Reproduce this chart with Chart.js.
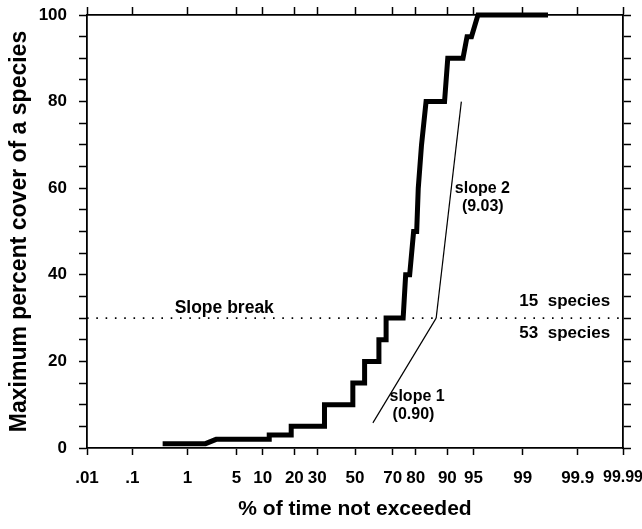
<!DOCTYPE html>
<html>
<head>
<meta charset="utf-8">
<script src="https://cdn.jsdelivr.net/npm/chart.js@4.4.1/dist/chart.umd.min.js"></script>
<style>
  html, body { margin: 0; padding: 0; background: #fff; }
  #wrap { width: 642px; height: 529px; }
</style>
</head>
<body>
<div id="wrap"><canvas id="cover-chart"></canvas></div>
<script>
// probability axis ticks (% of time not exceeded)
const xTickPercents = [0.01, 0.1, 1, 5, 10, 20, 30, 50, 70, 80, 90, 95, 99, 99.9, 99.99];
const xTickLabels = [".01", ".1", "1", "5", "10", "20", "30", "50", "70", "80", "90", "95", "99", "99.9", "99.99"];
const yTickStep = 5;
const yLabelEvery = 20;

// stepped exceedance curve
const curvePercent = [0.38, 1.9, 2.7, 11.7, 11.7, 18.8, 18.8, 33.6, 33.6, 48.8, 48.8, 55.3, 55.3, 63, 63, 66.7, 66.7,
  74.8, 75.9, 77.6, 79.2, 80.4, 81.0, 82.2, 83.8, 89.3, 90.1, 93.3, 94.0, 94.7, 95.6, 99.63];
const curveCover = [1, 1, 2, 2, 3, 3, 5, 5, 10, 10, 15, 15, 20, 20, 25, 25, 30,
  30, 40, 40, 50, 50, 60, 70, 80, 80, 90, 90, 95, 95, 100, 100];

// fitted slopes
const slope1Percent = [59.8, 87.0];
const slope1Cover = [5.8, 30];
const slope2Percent = [87.0, 93.0];
const slope2Cover = [30, 80];

// slope break
const breakPercent = [0.01, 99.99];
const breakCover = [30, 30];

const FONT = "'Liberation Sans', Arial, Helvetica, sans-serif";

// inverse normal cdf (Acklam), used for the probability axis
function probit(p) {
  const a = [-3.969683028665376e1, 2.209460984245205e2, -2.759285104469687e2, 1.38357751867269e2, -3.066479806614716e1, 2.506628277459239];
  const b = [-5.447609879822406e1, 1.615858368580409e2, -1.556989798598866e2, 6.680131188771972e1, -1.328068155833381e1];
  const c = [-7.784894002430293e-3, -3.223964580411365e-1, -2.400758277161838, -2.549732539343734, 4.374664141464968, 2.938163982698783];
  const d = [7.784695709041462e-3, 3.224671290700398e-1, 2.445134137142996, 3.754408661907416];
  const pl = 0.02425;
  let q, r;
  if (p < pl) {
    q = Math.sqrt(-2 * Math.log(p));
    return (((((c[0] * q + c[1]) * q + c[2]) * q + c[3]) * q + c[4]) * q + c[5]) / ((((d[0] * q + d[1]) * q + d[2]) * q + d[3]) * q + 1);
  }
  if (p <= 1 - pl) {
    q = p - 0.5;
    r = q * q;
    return ((((((a[0] * r + a[1]) * r + a[2]) * r + a[3]) * r + a[4]) * r + a[5]) * q) / (((((b[0] * r + b[1]) * r + b[2]) * r + b[3]) * r + b[4]) * r + 1);
  }
  q = Math.sqrt(-2 * Math.log(1 - p));
  return -(((((c[0] * q + c[1]) * q + c[2]) * q + c[3]) * q + c[4]) * q + c[5]) / ((((d[0] * q + d[1]) * q + d[2]) * q + d[3]) * q + 1);
}

const toPoints = (xs, ys) => xs.map((p, i) => ({ x: probit(p / 100), y: ys[i] }));

const notes = [
  { text: "Slope break", x: 3.48, y: 32.3, align: "center", size: 17.5 },
  { text: "15  species", x: 99.98, y: 33.9, align: "right", size: 17 },
  { text: "53  species", x: 99.98, y: 26.6, align: "right", size: 17 },
  { text: "slope 2", x: 91.7, y: 59.8, align: "left", size: 16 },
  { text: "(9.03)", x: 93.1, y: 55.7, align: "left", size: 16 },
  { text: "slope 1", x: 68.4, y: 11.8, align: "left", size: 16 },
  { text: "(0.90)", x: 69.9, y: 7.6, align: "left", size: 16 },
];

const notesPlugin = {
  id: "notes",
  afterDatasetsDraw(chart) {
    const ctx = chart.ctx;
    const xs = chart.scales.x;
    const ys = chart.scales.y;
    ctx.save();
    ctx.fillStyle = "#000";
    ctx.textBaseline = "middle";
    for (let n of notes) {
      ctx.font = "bold " + n.size + "px " + FONT;
      ctx.textAlign = n.align;
      ctx.fillText(n.text, xs.getPixelForValue(probit(n.x / 100)), ys.getPixelForValue(n.y));
    }
    ctx.restore();
  },
};

function setTicks(scale) {
  scale.ticks = xTickPercents.map((p) => ({ value: probit(p / 100) }));
}

const zMin = probit(xTickPercents[0] / 100);
const zMax = probit(xTickPercents[xTickPercents.length - 1] / 100);

const axisGrid = (len) => ({
  display: true,
  drawOnChartArea: false,
  drawTicks: true,
  tickLength: len,
  tickColor: "#000",
  tickWidth: 1.5,
});
const axisBorder = { display: true, color: "#000", width: 1.8 };

new Chart(document.getElementById("cover-chart").getContext("2d"), {
  type: "scatter",
  plugins: [notesPlugin],
  data: {
    datasets: [
      {
        label: "curve",
        data: toPoints(curvePercent, curveCover),
        showLine: true,
        borderColor: "#000",
        borderWidth: 5,
        pointRadius: 0,
        clip: false,
      },
      {
        label: "slope 1",
        data: toPoints(slope1Percent, slope1Cover),
        showLine: true,
        borderColor: "#000",
        borderWidth: 1.2,
        pointRadius: 0,
      },
      {
        label: "slope 2",
        data: toPoints(slope2Percent, slope2Cover),
        showLine: true,
        borderColor: "#000",
        borderWidth: 1.2,
        pointRadius: 0,
      },
      {
        label: "break",
        data: toPoints(breakPercent, breakCover),
        showLine: true,
        borderColor: "#000",
        borderWidth: 1.6,
        borderDash: [1.6, 7.7],
        pointRadius: 0,
      },
    ],
  },
  options: {
    responsive: true,
    maintainAspectRatio: false,
    animation: false,
    layout: { padding: 0 },
    plugins: {
      legend: { display: false },
      tooltip: { enabled: false },
    },
    scales: {
      x: {
        type: "linear",
        position: "bottom",
        min: zMin,
        max: zMax,
        afterBuildTicks: setTicks,
        afterFit: (s) => { s.height = 81; s.paddingLeft = 0; s.paddingRight = 0; },
        grid: axisGrid(7),
        border: axisBorder,
        ticks: {
          autoSkip: false,
          maxRotation: 0,
          padding: 13,
          color: "#000",
          // last label sits at the canvas edge, set a touch smaller
          font: (ctx) => ({ size: ctx.index === xTickLabels.length - 1 ? 16 : 17, weight: "bold", family: FONT }),
          callback: (v, i) => xTickLabels[i],
        },
        title: {
          display: true,
          text: "% of time not exceeded",
          color: "#000",
          padding: { top: 0, bottom: 7 },
          font: { size: 21, weight: "bold", family: FONT },
        },
      },
      x2: {
        type: "linear",
        position: "top",
        min: zMin,
        max: zMax,
        afterBuildTicks: setTicks,
        afterFit: (s) => { s.height = 15; s.paddingLeft = 0; s.paddingRight = 0; },
        grid: axisGrid(8),
        border: axisBorder,
        ticks: { display: false },
      },
      y: {
        position: "left",
        min: 0,
        max: 100,
        afterFit: (s) => { s.width = 87; s.paddingTop = 0; s.paddingBottom = 0; },
        grid: axisGrid(8),
        border: axisBorder,
        ticks: {
          stepSize: yTickStep,
          autoSkip: false,
          padding: 12,
          color: "#000",
          font: { size: 17, weight: "bold", family: FONT },
          callback: (v) => (v % yLabelEvery === 0 ? v : ""),
        },
        title: {
          display: true,
          text: "Maximum percent cover of a species",
          color: "#000",
          padding: { top: 6, bottom: 0 },
          font: { size: 23, weight: "bold", family: FONT },
        },
      },
      y2: {
        position: "right",
        min: 0,
        max: 100,
        afterFit: (s) => { s.width = 19; s.paddingTop = 0; s.paddingBottom = 0; },
        grid: axisGrid(8),
        border: axisBorder,
        ticks: { display: false, stepSize: yTickStep, autoSkip: false },
      },
    },
  },
});
</script>
</body>
</html>
